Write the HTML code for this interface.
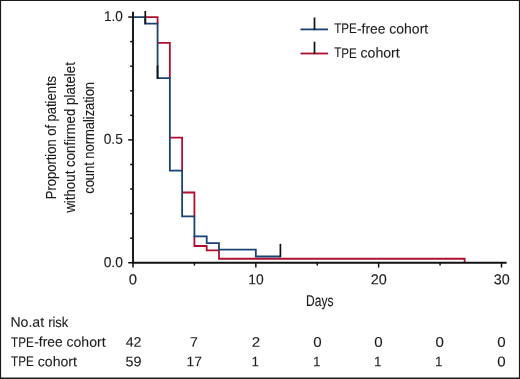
<!DOCTYPE html>
<html lang="en"><head><meta charset="utf-8"><title>Kaplan-Meier: platelet count normalization</title>
<style>html,body{margin:0;padding:0;background:#fff}body{width:520px;height:379px;overflow:hidden}svg{display:block}</style>
</head><body>
<svg width="520" height="379" viewBox="0 0 520 379">
<rect x="0" y="0" width="520" height="379" fill="#fff"/>
<path d="M0 0.55 H520 M0.55 0 V379 M519.45 0 V379" fill="none" stroke="#1c1c1c" stroke-width="1.1"/>
<path d="M0 378.3 H520" fill="none" stroke="#1c1c1c" stroke-width="1.4"/>
<path d="M145.28 17.05 H157.57 V24.00 M157.57 42.80 H169.85 V78.60 M169.85 137.60 H182.13 V171.10 M182.13 192.50 H194.41 V216.70 M194.41 236.00 V246.00 H206.70 V250.40 H218.98 V258.75 H464.64 V262.75" fill="none" stroke="#b01030" stroke-width="1.8"/>
<path d="M133.00 17.05 H145.28 V23.60 H157.57 V78.20 H169.85 V170.70 H182.13 V216.30 H194.41 V236.40 H206.70 V243.20 H218.98 V249.70 H255.83 V256.50 H280.40" fill="none" stroke="#1a4272" stroke-width="1.8"/>
<path d="M145.28 24.30 V10.90" stroke="#111" stroke-width="1.7" fill="none"/>
<path d="M157.57 78.90 V65.50" stroke="#111" stroke-width="1.7" fill="none"/>
<path d="M280.40 257.20 V243.80" stroke="#111" stroke-width="1.7" fill="none"/>
<path d="M133.00 11.7 V263.65" stroke="#111" stroke-width="1.9" fill="none"/>
<path d="M132.10 262.75 H506.6" stroke="#111" stroke-width="1.9" fill="none"/>
<path d="M128.20 262.75 H133.00" stroke="#111" stroke-width="1.5" fill="none"/>
<path d="M130.20 238.18 H133.00" stroke="#111" stroke-width="1.5" fill="none"/>
<path d="M130.20 213.61 H133.00" stroke="#111" stroke-width="1.5" fill="none"/>
<path d="M130.20 189.04 H133.00" stroke="#111" stroke-width="1.5" fill="none"/>
<path d="M130.20 164.47 H133.00" stroke="#111" stroke-width="1.5" fill="none"/>
<path d="M128.20 139.90 H133.00" stroke="#111" stroke-width="1.5" fill="none"/>
<path d="M130.20 115.33 H133.00" stroke="#111" stroke-width="1.5" fill="none"/>
<path d="M130.20 90.76 H133.00" stroke="#111" stroke-width="1.5" fill="none"/>
<path d="M130.20 66.19 H133.00" stroke="#111" stroke-width="1.5" fill="none"/>
<path d="M130.20 41.62 H133.00" stroke="#111" stroke-width="1.5" fill="none"/>
<path d="M128.20 17.05 H133.00" stroke="#111" stroke-width="1.5" fill="none"/>
<path d="M133.00 262.75 V267.55" stroke="#111" stroke-width="1.5" fill="none"/>
<path d="M194.41 262.75 V265.55" stroke="#111" stroke-width="1.5" fill="none"/>
<path d="M255.83 262.75 V267.55" stroke="#111" stroke-width="1.5" fill="none"/>
<path d="M317.25 262.75 V265.55" stroke="#111" stroke-width="1.5" fill="none"/>
<path d="M378.66 262.75 V267.55" stroke="#111" stroke-width="1.5" fill="none"/>
<path d="M440.07 262.75 V265.55" stroke="#111" stroke-width="1.5" fill="none"/>
<path d="M501.49 262.75 V267.55" stroke="#111" stroke-width="1.5" fill="none"/>
<text y="20.95" font-size="14.2" transform="rotate(0.03 105.1 21.0)" font-family="Liberation Sans, Arial, sans-serif" fill="#1c1c1c" stroke="#1c1c1c" stroke-width="0.12"><tspan x="104.07" textLength="18.86" lengthAdjust="spacingAndGlyphs">1.0</tspan></text>
<text y="143.80" font-size="14.2" transform="rotate(0.03 104.3 143.8)" font-family="Liberation Sans, Arial, sans-serif" fill="#1c1c1c" stroke="#1c1c1c" stroke-width="0.12"><tspan x="103.77" textLength="19.01" lengthAdjust="spacingAndGlyphs">0.5</tspan></text>
<text y="266.90" font-size="14.2" transform="rotate(0.03 104.2 266.9)" font-family="Liberation Sans, Arial, sans-serif" fill="#1c1c1c" stroke="#1c1c1c" stroke-width="0.12"><tspan x="103.66" textLength="19.28" lengthAdjust="spacingAndGlyphs">0.0</tspan></text>
<text y="284.15" font-size="14.2" transform="rotate(0.03 129.3 284.1)" font-family="Liberation Sans, Arial, sans-serif" fill="#1c1c1c" stroke="#1c1c1c" stroke-width="0.12"><tspan x="128.72" textLength="8.26" lengthAdjust="spacingAndGlyphs">0</tspan></text>
<text y="284.15" font-size="14.2" transform="rotate(0.03 249.4 284.1)" font-family="Liberation Sans, Arial, sans-serif" fill="#1c1c1c" stroke="#1c1c1c" stroke-width="0.12"><tspan x="248.35" textLength="15.39" lengthAdjust="spacingAndGlyphs">10</tspan></text>
<text y="284.15" font-size="14.2" transform="rotate(0.03 371.5 284.1)" font-family="Liberation Sans, Arial, sans-serif" fill="#1c1c1c" stroke="#1c1c1c" stroke-width="0.12"><tspan x="370.77" textLength="16.04" lengthAdjust="spacingAndGlyphs">20</tspan></text>
<text y="284.15" font-size="14.2" transform="rotate(0.03 494.3 284.1)" font-family="Liberation Sans, Arial, sans-serif" fill="#1c1c1c" stroke="#1c1c1c" stroke-width="0.12"><tspan x="493.75" textLength="15.96" lengthAdjust="spacingAndGlyphs">30</tspan></text>
<text y="306.45" font-size="15.6" transform="rotate(0.03 307.1 306.4)" font-family="Liberation Sans, Arial, sans-serif" fill="#1c1c1c" stroke="#1c1c1c" stroke-width="0.12"><tspan x="306.11" textLength="27.42" lengthAdjust="spacingAndGlyphs">Days</tspan></text>
<text transform="translate(55.70 198.10) rotate(-90)" x="-1.06" y="0" font-size="15" textLength="123.13" lengthAdjust="spacingAndGlyphs" font-family="Liberation Sans, Arial, sans-serif" fill="#1c1c1c" stroke="#1c1c1c" stroke-width="0.12">Proportion of patients</text>
<text transform="translate(74.90 212.80) rotate(-90)" x="0.02" y="0" font-size="15" textLength="150.68" lengthAdjust="spacingAndGlyphs" font-family="Liberation Sans, Arial, sans-serif" fill="#1c1c1c" stroke="#1c1c1c" stroke-width="0.12">without confirmed platelet</text>
<text transform="translate(94.40 193.20) rotate(-90)" x="-0.55" y="0" font-size="15" textLength="111.78" lengthAdjust="spacingAndGlyphs" font-family="Liberation Sans, Arial, sans-serif" fill="#1c1c1c" stroke="#1c1c1c" stroke-width="0.12">count normalization</text>
<path d="M300.5 29.4 H328" stroke="#1a4272" stroke-width="1.8"/>
<path d="M314.5 17.5 V30.1" stroke="#111" stroke-width="1.7"/>
<path d="M300.5 53.5 H328" stroke="#b01030" stroke-width="1.8"/>
<path d="M314.5 41.7 V54.2" stroke="#111" stroke-width="1.7"/>
<text y="33.40" font-size="14.0" transform="rotate(0.03 334.4 33.4)" font-family="Liberation Sans, Arial, sans-serif" fill="#1c1c1c" stroke="#1c1c1c" stroke-width="0.1"><tspan x="334.14" textLength="22.56" lengthAdjust="spacingAndGlyphs">TPE</tspan><tspan x="356.99" textLength="28.43" lengthAdjust="spacingAndGlyphs">-free</tspan> <tspan x="389.31" textLength="38.90" lengthAdjust="spacingAndGlyphs">cohort</tspan></text>
<text y="57.50" font-size="14.0" transform="rotate(0.03 334.4 57.5)" font-family="Liberation Sans, Arial, sans-serif" fill="#1c1c1c" stroke="#1c1c1c" stroke-width="0.1"><tspan x="334.14" textLength="22.56" lengthAdjust="spacingAndGlyphs">TPE</tspan> <tspan x="360.50" textLength="39.20" lengthAdjust="spacingAndGlyphs">cohort</tspan></text>
<text y="326.70" font-size="14.0" transform="rotate(0.03 11.6 326.7)" font-family="Liberation Sans, Arial, sans-serif" fill="#1c1c1c" stroke="#1c1c1c" stroke-width="0.1"><tspan x="10.44" textLength="33.66" lengthAdjust="spacingAndGlyphs">No.at</tspan> <tspan x="48.14" textLength="20.09" lengthAdjust="spacingAndGlyphs">risk</tspan></text>
<text y="346.60" font-size="14.0" transform="rotate(0.03 11.3 346.6)" font-family="Liberation Sans, Arial, sans-serif" fill="#1c1c1c" stroke="#1c1c1c" stroke-width="0.1"><tspan x="11.09" textLength="22.71" lengthAdjust="spacingAndGlyphs">TPE</tspan><tspan x="34.19" textLength="28.43" lengthAdjust="spacingAndGlyphs">-free</tspan> <tspan x="66.50" textLength="39.10" lengthAdjust="spacingAndGlyphs">cohort</tspan></text>
<text y="366.20" font-size="14.0" transform="rotate(0.03 11.3 366.2)" font-family="Liberation Sans, Arial, sans-serif" fill="#1c1c1c" stroke="#1c1c1c" stroke-width="0.1"><tspan x="11.09" textLength="22.71" lengthAdjust="spacingAndGlyphs">TPE</tspan> <tspan x="37.80" textLength="39.20" lengthAdjust="spacingAndGlyphs">cohort</tspan></text>
<text y="346.65" font-size="13.9" transform="rotate(0.03 126.0 346.6)" font-family="Liberation Sans, Arial, sans-serif" fill="#1c1c1c" stroke="#1c1c1c" stroke-width="0.1"><tspan x="125.67" textLength="15.84" lengthAdjust="spacingAndGlyphs">42</tspan></text>
<text y="346.65" font-size="13.9" transform="rotate(0.03 190.8 346.6)" font-family="Liberation Sans, Arial, sans-serif" fill="#1c1c1c" stroke="#1c1c1c" stroke-width="0.1"><tspan x="190.08" textLength="7.83" lengthAdjust="spacingAndGlyphs">7</tspan></text>
<text y="346.65" font-size="13.9" transform="rotate(0.03 252.6 346.6)" font-family="Liberation Sans, Arial, sans-serif" fill="#1c1c1c" stroke="#1c1c1c" stroke-width="0.1"><tspan x="251.84" textLength="8.42" lengthAdjust="spacingAndGlyphs">2</tspan></text>
<text y="346.65" font-size="13.9" transform="rotate(0.03 313.8 346.6)" font-family="Liberation Sans, Arial, sans-serif" fill="#1c1c1c" stroke="#1c1c1c" stroke-width="0.1"><tspan x="313.21" textLength="8.38" lengthAdjust="spacingAndGlyphs">0</tspan></text>
<text y="346.65" font-size="13.9" transform="rotate(0.03 374.9 346.6)" font-family="Liberation Sans, Arial, sans-serif" fill="#1c1c1c" stroke="#1c1c1c" stroke-width="0.1"><tspan x="374.31" textLength="8.38" lengthAdjust="spacingAndGlyphs">0</tspan></text>
<text y="346.65" font-size="13.9" transform="rotate(0.03 436.0 346.6)" font-family="Liberation Sans, Arial, sans-serif" fill="#1c1c1c" stroke="#1c1c1c" stroke-width="0.1"><tspan x="435.41" textLength="8.38" lengthAdjust="spacingAndGlyphs">0</tspan></text>
<text y="346.65" font-size="13.9" transform="rotate(0.03 497.9 346.6)" font-family="Liberation Sans, Arial, sans-serif" fill="#1c1c1c" stroke="#1c1c1c" stroke-width="0.1"><tspan x="497.31" textLength="8.38" lengthAdjust="spacingAndGlyphs">0</tspan></text>
<text y="366.25" font-size="13.9" transform="rotate(0.03 126.0 366.2)" font-family="Liberation Sans, Arial, sans-serif" fill="#1c1c1c" stroke="#1c1c1c" stroke-width="0.1"><tspan x="125.42" textLength="16.06" lengthAdjust="spacingAndGlyphs">59</tspan></text>
<text y="366.25" font-size="13.9" transform="rotate(0.03 187.6 366.2)" font-family="Liberation Sans, Arial, sans-serif" fill="#1c1c1c" stroke="#1c1c1c" stroke-width="0.1"><tspan x="186.55" textLength="15.34" lengthAdjust="spacingAndGlyphs">17</tspan></text>
<text y="366.25" font-size="13.9" transform="rotate(0.03 252.6 366.2)" font-family="Liberation Sans, Arial, sans-serif" fill="#1c1c1c" stroke="#1c1c1c" stroke-width="0.1"><tspan x="251.58" textLength="7.48" lengthAdjust="spacingAndGlyphs">1</tspan></text>
<text y="366.25" font-size="13.9" transform="rotate(0.03 313.9 366.2)" font-family="Liberation Sans, Arial, sans-serif" fill="#1c1c1c" stroke="#1c1c1c" stroke-width="0.1"><tspan x="312.88" textLength="7.48" lengthAdjust="spacingAndGlyphs">1</tspan></text>
<text y="366.25" font-size="13.9" transform="rotate(0.03 375.0 366.2)" font-family="Liberation Sans, Arial, sans-serif" fill="#1c1c1c" stroke="#1c1c1c" stroke-width="0.1"><tspan x="373.98" textLength="7.48" lengthAdjust="spacingAndGlyphs">1</tspan></text>
<text y="366.25" font-size="13.9" transform="rotate(0.03 436.1 366.2)" font-family="Liberation Sans, Arial, sans-serif" fill="#1c1c1c" stroke="#1c1c1c" stroke-width="0.1"><tspan x="435.08" textLength="7.48" lengthAdjust="spacingAndGlyphs">1</tspan></text>
<text y="366.25" font-size="13.9" transform="rotate(0.03 497.9 366.2)" font-family="Liberation Sans, Arial, sans-serif" fill="#1c1c1c" stroke="#1c1c1c" stroke-width="0.1"><tspan x="497.31" textLength="8.38" lengthAdjust="spacingAndGlyphs">0</tspan></text>
</svg>
</body></html>
